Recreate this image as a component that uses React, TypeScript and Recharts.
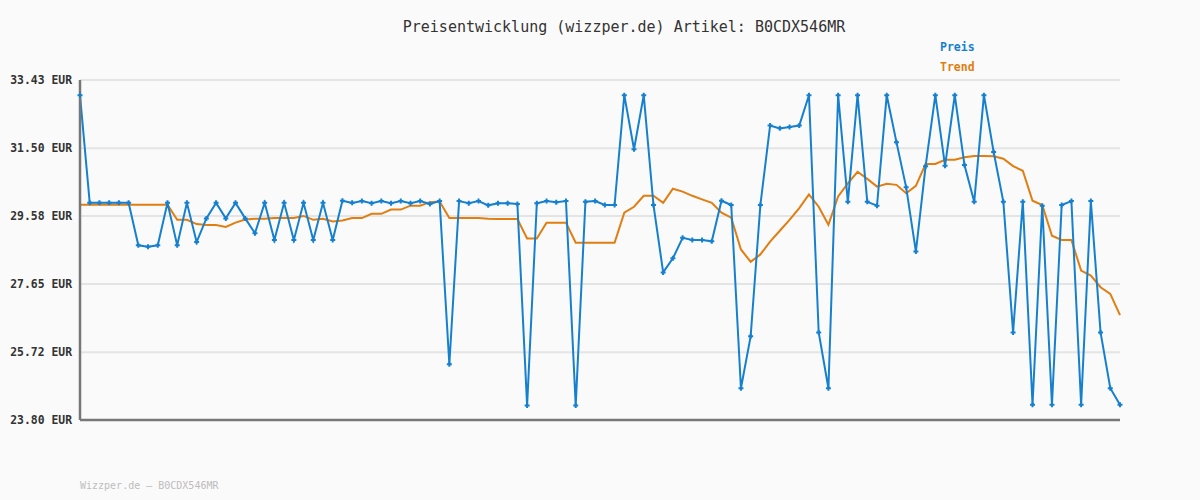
import { LineChart, Line, XAxis, YAxis, CartesianGrid, ReferenceLine } from "recharts";

const PRICE_COLOR = "#1680cf";
const TREND_COLOR = "#e07e12";
const AXIS_COLOR = "#777";
const MONO = "'DejaVu Sans Mono', 'Liberation Mono', monospace";

const preis: number[] = [
  33.0, 29.95, 29.95, 29.95, 29.95, 29.95, 28.75, 28.71, 28.75, 29.95,
  28.75, 29.95, 28.84, 29.51, 29.95, 29.51, 29.95, 29.51, 29.09, 29.95,
  28.9, 29.95, 28.9, 29.95, 28.9, 29.95, 28.9, 30.01, 29.95, 30.0,
  29.94, 30.0, 29.94, 30.0, 29.94, 30.0, 29.92, 30.0, 25.38, 30.0,
  29.94, 30.0, 29.88, 29.94, 29.94, 29.92, 24.21, 29.94, 30.0, 29.97,
  30.0, 24.21, 29.98, 30.0, 29.89, 29.89, 33.0, 31.47, 33.0, 29.89,
  27.98, 28.38, 28.96, 28.9, 28.9, 28.86, 30.01, 29.89, 24.7, 26.17,
  29.89, 32.14, 32.06, 32.1, 32.14, 33.0, 26.28, 24.7, 33.0, 29.98,
  33.0, 29.98, 29.87, 33.0, 31.67, 30.39, 28.57, 30.99, 33.0, 31.0,
  33.0, 31.02, 29.98, 33.0, 31.39, 29.98, 26.28, 29.98, 24.23, 29.87,
  24.23, 29.89, 30.0, 24.23, 30.0, 26.28, 24.7, 24.23,
];

const trend: number[] = [
  29.9, 29.9, 29.9, 29.9, 29.9, 29.9, 29.9, 29.9, 29.9, 29.9,
  29.47, 29.47, 29.35, 29.32, 29.32, 29.27, 29.39, 29.48, 29.5, 29.5,
  29.52, 29.52, 29.52, 29.58, 29.47, 29.5, 29.42, 29.45, 29.52, 29.52,
  29.64, 29.64, 29.76, 29.76, 29.87, 29.87, 29.97, 29.99, 29.52, 29.52,
  29.52, 29.52, 29.5, 29.49, 29.49, 29.49, 28.94, 28.94, 29.39, 29.39,
  29.39, 28.82, 28.82, 28.82, 28.82, 28.82, 29.67, 29.84, 30.15, 30.15,
  29.95, 30.35, 30.27, 30.15, 30.05, 29.95, 29.67, 29.53, 28.63, 28.28,
  28.49, 28.85, 29.16, 29.47, 29.8, 30.19, 29.84, 29.33, 30.13, 30.5,
  30.83, 30.63, 30.41, 30.49, 30.46, 30.22, 30.43, 31.05, 31.05, 31.17,
  31.17, 31.24, 31.28, 31.28, 31.27, 31.2, 30.99, 30.86, 30.01, 29.89,
  29.02, 28.9, 28.9, 28.03, 27.89, 27.56, 27.37, 26.77,
];

const yTicks: number[] = [23.8, 25.72, 27.65, 29.58, 31.5, 33.43];

const data = preis.map((p, i) => ({ idx: i, preis: p, trend: trend[i] }));

// little "+" marker like the original renderer
function PlusDot(props: any) {
  const { cx, cy, index } = props;
  if (cx == null || cy == null) return null;
  return (
    <path
      key={`dot-${index}`}
      d={`M${cx - 2.5},${cy}h5M${cx},${cy - 2.5}v5`}
      stroke={PRICE_COLOR}
      strokeWidth={2}
      fill="none"
    />
  );
}

export default function App() {
  return (
    <div style={{
      position: "absolute", left: 0, top: 0, width: 1200, height: 500,
      background: "#fafafa", fontFamily: MONO,
    }}>
      <div style={{
        position: "absolute", left: 0, top: 20, width: 1248, textAlign: "center",
        fontSize: 15, lineHeight: "15px", color: "#333",
      }}>
        Preisentwicklung (wizzper.de) Artikel: B0CDX546MR
      </div>
      <div style={{
        position: "absolute", left: 940, top: 42, fontSize: 11.5, lineHeight: "11px",
        fontWeight: 700, color: PRICE_COLOR,
      }}>
        Preis
      </div>
      <div style={{
        position: "absolute", left: 940, top: 62, fontSize: 11.5, lineHeight: "11px",
        fontWeight: 700, color: TREND_COLOR,
      }}>
        Trend
      </div>
      <LineChart
        width={1200}
        height={500}
        data={data}
        margin={{ top: 80, right: 80, bottom: 80, left: 0 }}
      >
        <CartesianGrid vertical={false} stroke="#e4e4e4" strokeWidth={2} />
        <XAxis dataKey="idx" hide />
        <YAxis
          width={80}
          domain={[23.8, 33.43]}
          ticks={yTicks}
          interval={0}
          tickSize={0}
          tickMargin={8}
          tickLine={false}
          axisLine={{ stroke: AXIS_COLOR, strokeWidth: 2.5 }}
          tickFormatter={(v: number) => `${v.toFixed(2)} EUR`}
          tick={{ fill: "#333", fontSize: 11.4, fontWeight: 700, fontFamily: MONO }}
        />
        <ReferenceLine y={23.8} stroke={AXIS_COLOR} strokeWidth={2.5} />
        <Line
          dataKey="trend"
          stroke={TREND_COLOR}
          strokeWidth={2}
          dot={false}
          type="linear"
          isAnimationActive={false}
        />
        <Line
          dataKey="preis"
          stroke={PRICE_COLOR}
          strokeWidth={2}
          dot={PlusDot}
          activeDot={false}
          type="linear"
          isAnimationActive={false}
        />
      </LineChart>
      <div style={{
        position: "absolute", left: 80, top: 481, fontSize: 10, lineHeight: "10px",
        color: "#bdbdbd",
      }}>
        Wizzper.de – B0CDX546MR
      </div>
    </div>
  );
}
